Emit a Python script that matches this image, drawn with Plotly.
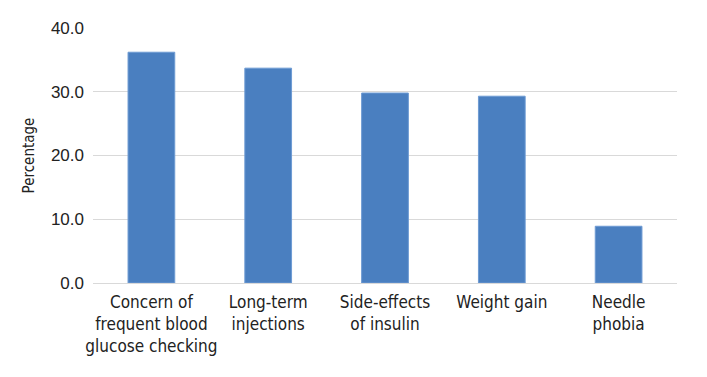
import plotly.graph_objects as go

categories = [
    "Concern of<br>frequent blood<br>glucose checking",
    "Long-term<br>injections",
    "Side-effects<br>of insulin",
    "Weight gain",
    "Needle<br>phobia",
]
values = [36.2, 33.7, 29.8, 29.3, 8.9]
y_ticks = [0, 10, 20, 30, 40]
y_tick_labels = ["0.0", "10.0", "20.0", "30.0", "40.0"]

NARROW = "DejaVu Sans Condensed, Liberation Sans, sans-serif"

fig = go.Figure(
    go.Bar(
        x=categories,
        y=values,
        marker=dict(color="#4A7FC0", line=dict(color="#6E9BD3", width=1)),
        width=0.4,
    )
)

fig.update_layout(
    width=707,
    height=377,
    margin=dict(l=85, r=38, t=20, b=102),
    paper_bgcolor="white",
    plot_bgcolor="white",
    showlegend=False,
    font=dict(family="Liberation Sans", color="#222222"),
)

fig.update_xaxes(
    tickfont=dict(family=NARROW, size=17, color="#222222"),
    showgrid=False,
    showline=False,
    ticks="",
    ticklabelstandoff=7,
)

fig.update_yaxes(
    range=[0, 40],
    tickvals=y_ticks,
    ticktext=y_tick_labels,
    tickfont=dict(family="Liberation Sans", size=17, color="#222222"),
    showgrid=True,
    gridcolor="#D9D9D9",
    gridwidth=1,
    zeroline=True,
    zerolinecolor="#D9D9D9",
    zerolinewidth=1,
    showline=False,
    ticks="",
    ticklabelstandoff=8,
    title=dict(
        text="Percentage",
        font=dict(family=NARROW, size=15, color="#222222"),
        standoff=12,
    ),
)

fig.write_html("out.html")
